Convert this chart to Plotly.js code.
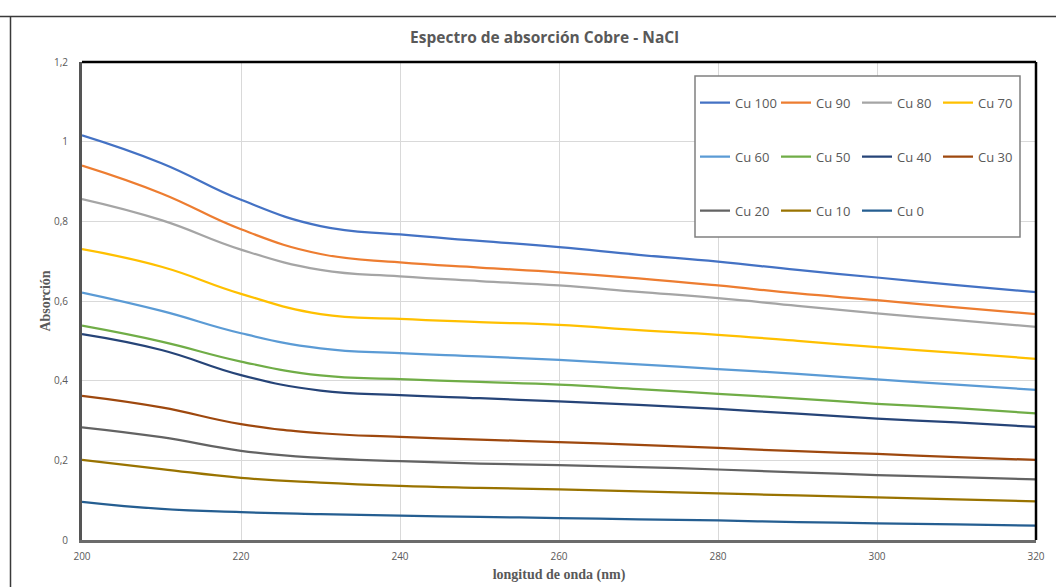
<!DOCTYPE html>
<html><head><meta charset="utf-8">
<script src="https://cdn.plot.ly/plotly-3.0.1.min.js"></script>
<style>html,body{margin:0;padding:0;background:#fff}#chart{width:1056px;height:587px}</style>
</head><body><div id="chart"></div>
<script>
const wavelength = [200,210,220,230,240,250,260,270,280,290,300,310,320];
const seriesNames = ["Cu 100","Cu 90","Cu 80","Cu 70","Cu 60","Cu 50","Cu 40","Cu 30","Cu 20","Cu 10","Cu 0"];
const cu100 = [1.016,0.946,0.854,0.788,0.767,0.751,0.735,0.716,0.699,0.678,0.659,0.640,0.622];
const cu90  = [0.940,0.870,0.780,0.718,0.697,0.684,0.672,0.657,0.639,0.619,0.602,0.584,0.567];
const cu80  = [0.856,0.803,0.729,0.678,0.662,0.650,0.639,0.623,0.607,0.588,0.569,0.552,0.535];
const cu70  = [0.730,0.686,0.618,0.567,0.555,0.547,0.540,0.527,0.515,0.500,0.484,0.470,0.455];
const cu60  = [0.621,0.575,0.519,0.481,0.469,0.461,0.452,0.441,0.429,0.417,0.403,0.390,0.377];
const cu50  = [0.538,0.498,0.448,0.413,0.404,0.397,0.390,0.379,0.367,0.355,0.342,0.331,0.318];
const cu40  = [0.517,0.477,0.414,0.375,0.364,0.356,0.348,0.339,0.329,0.317,0.305,0.295,0.284];
const cu30  = [0.362,0.333,0.291,0.268,0.259,0.252,0.246,0.239,0.231,0.223,0.216,0.208,0.201];
const cu20  = [0.283,0.258,0.224,0.206,0.198,0.192,0.188,0.183,0.177,0.170,0.163,0.158,0.152];
const cu10  = [0.201,0.178,0.156,0.144,0.136,0.131,0.127,0.122,0.117,0.112,0.107,0.102,0.097];
const cu0   = [0.096,0.078,0.070,0.065,0.061,0.058,0.055,0.052,0.049,0.045,0.042,0.039,0.036];
const seriesValues = [cu100,cu90,cu80,cu70,cu60,cu50,cu40,cu30,cu20,cu10,cu0];
const colors = ["#4472C4","#ED7D31","#A5A5A5","#FFC000","#5B9BD5","#70AD47","#264478","#9E480E","#636363","#997300","#255E91"];

// plot area in px: x 82..1036, y 62..540
const W=1056,H=587,L=82,R=1036,T=62,B=540;
const px = x => (x-L)/(R-L);
const py = y => (B-y)/(B-T);

const legendNames = ["legend","legend","legend","legend","legend2","legend2","legend2","legend2","legend3","legend3","legend3"];
const traces = seriesNames.map((n,i)=>({
  x: wavelength, y: seriesValues[i], name: n, type:'scatter', mode:'lines',
  line:{color:colors[i], width:2.25, shape:'spline', smoothing:1.3},
  legend: legendNames[i], hoverinfo:'skip'
}));

const legFont = {family:"Open Sans", size:13, color:"#595959"};
const mkLeg = (yc)=>({orientation:'h', x:px(695), xanchor:'left', y:py(yc), yanchor:'middle',
  bgcolor:'rgba(0,0,0,0)', borderwidth:0, font:legFont, entrywidth:36, entrywidthmode:'pixels',
  itemwidth:30, traceorder:'normal', itemclick:false, itemdoubleclick:false});

const layout = {
  width:W, height:H,
  margin:{l:L, r:W-R, t:T, b:H-B, pad:0},
  paper_bgcolor:'#ffffff', plot_bgcolor:'#ffffff',
  separators:', ',
  showlegend:true,
  title:{text:"Espectro de absorción Cobre - NaCl", x:544.5/W, xref:'container', xanchor:'center',
    y:1-38/H, yref:'container', yanchor:'middle',
    font:{family:"Open Sans", size:15.5, color:"#595959", weight:'bold'}},
  xaxis:{range:[200,320], tickvals:[200,220,240,260,280,300,320], showgrid:true, gridcolor:'#d9d9d9', gridwidth:1,
    zeroline:false, showline:true, linecolor:'#6b6b6b', linewidth:3, ticks:'', ticklabelstandoff:5,
    tickfont:{family:"Open Sans", size:10, color:"#595959"},
    title:{text:"longitud de onda (nm)", font:{family:"Liberation Serif", size:14, color:"#595959", weight:'bold'}, standoff:8}},
  yaxis:{range:[0,1.2], tickvals:[0,0.2,0.4,0.6,0.8,1,1.2], showgrid:true, gridcolor:'#d9d9d9', gridwidth:1,
    zeroline:false, showline:true, linecolor:'#555555', linewidth:3, ticks:'', ticklabelstandoff:9,
    tickfont:{family:"Open Sans", size:10, color:"#595959"},
    title:{text:"Absorción", font:{family:"Liberation Serif", size:14, color:"#595959", weight:'bold'}, standoff:1}},
  legend: mkLeg(102.7), legend2: mkLeg(156.7), legend3: mkLeg(210.7),
  shapes:[
    {type:'line', xref:'paper', yref:'paper', x0:px(0), x1:px(1060), y0:py(16.5), y1:py(16.5), line:{color:'#3a3a3a', width:1.5}, layer:'above'},
    {type:'line', xref:'paper', yref:'paper', x0:px(10.5), x1:px(10.5), y0:py(16.5), y1:py(600), line:{color:'#3a3a3a', width:1.5}, layer:'above'},
    {type:'line', xref:'paper', yref:'paper', x0:0, x1:1, y0:1, y1:1, line:{color:'#000000', width:2.5}, layer:'above'},
    {type:'line', xref:'paper', yref:'paper', x0:1, x1:1, y0:0, y1:1, line:{color:'#000000', width:2.5}, layer:'above'},
    {type:'rect', xref:'paper', yref:'paper', x0:px(695), x1:px(1020), y0:py(76), y1:py(237), fillcolor:'#ffffff', line:{color:'#808080', width:1.5}, layer:'above'}
  ]
};
Plotly.newPlot('chart', traces, layout, {staticPlot:true, displayModeBar:false});
</script></body></html>
